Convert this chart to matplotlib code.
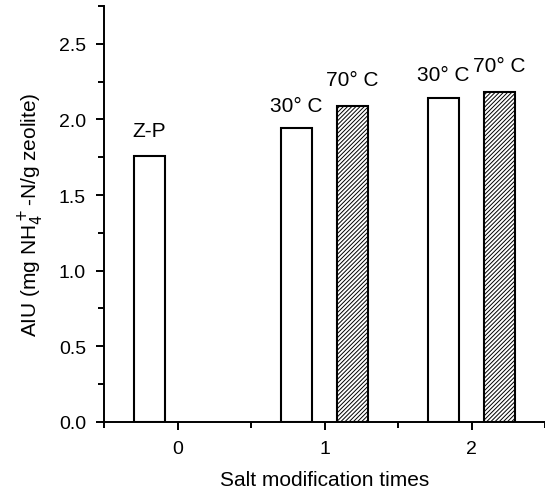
import numpy as np
import matplotlib
matplotlib.use('Agg')
import matplotlib.pyplot as plt
from matplotlib.ticker import MultipleLocator, FormatStrFormatter

# data
times = [0, 1, 2]
zp_value = [1.76]                 # unmodified zeolite (Z-P)
t30_values = [1.94, 2.14]         # 30 °C, 1 and 2 times
t70_values = [2.09, 2.18]         # 70 °C, 1 and 2 times
zp_label = ['Z-P']
t30_labels = ['30° C', '30° C']
t70_labels = ['70° C', '70° C']

plt.rcParams['font.family'] = ['Liberation Sans', 'DejaVu Sans']
plt.rcParams['hatch.linewidth'] = 0.7
plt.rcParams['hatch.color'] = '#555555'

fig = plt.figure(figsize=(5.45, 4.89), dpi=100)
ax = fig.add_axes([0.191, 0.135, 0.809, 0.851])

w = 0.215
off = 0.19
x = np.array(times, dtype=float)

b0 = ax.bar(x[:1] - off, zp_value, w, facecolor='white', edgecolor='black', linewidth=1.5)
b1 = ax.bar(x[1:] - off, t30_values, w, facecolor='white', edgecolor='black', linewidth=1.5)
b2 = ax.bar(x[1:] + off, t70_values, w, facecolor='white', edgecolor='black', linewidth=1.5,
            hatch='////////')

ax.bar_label(b0, labels=zp_label, padding=11, fontsize=15)
ax.bar_label(b1, labels=t30_labels, padding=10, fontsize=15)
ax.bar_label(b2, labels=t70_labels, padding=12, fontsize=15)

ax.set_xlim(-0.5, 2.5)
ax.set_ylim(0, 2.75)
ax.set_xticks(times)
ax.xaxis.set_minor_locator(MultipleLocator(0.5))
ax.yaxis.set_major_locator(MultipleLocator(0.5))
ax.yaxis.set_minor_locator(MultipleLocator(0.25))
ax.yaxis.set_major_formatter(FormatStrFormatter('%.1f'))

for s in ['top', 'right']:
    ax.spines[s].set_visible(False)
for s in ['left', 'bottom']:
    ax.spines[s].set_linewidth(1.4)

ax.tick_params(which='major', direction='out', length=6, width=1.4, labelsize=14)
ax.tick_params(which='minor', direction='out', length=4, width=1.4)
ax.tick_params(axis='x', which='major', pad=7)
ax.tick_params(axis='y', which='major', pad=7)

ax.set_xlabel('Salt modification times', fontsize=15, labelpad=9)
ax.set_ylabel('AIU (mg NH$_4^+$-N/g zeolite)', fontsize=15, labelpad=9)

fig.savefig('out.png', dpi=100)
